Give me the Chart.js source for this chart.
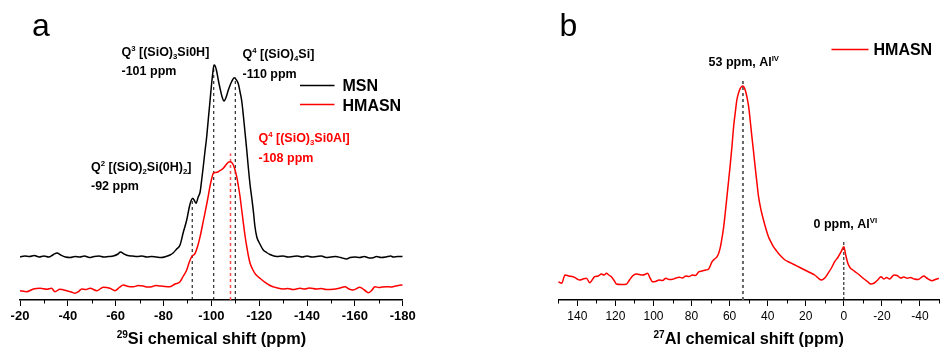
<!DOCTYPE html>
<html><head><meta charset="utf-8">
<script src="https://cdn.jsdelivr.net/npm/chart.js@4/dist/chart.umd.min.js"></script>
<style>
html,body{margin:0;padding:0;background:#fff;}
#wrap{position:relative;width:942px;height:349px;overflow:hidden;background:#fff;}
#c1{position:absolute;left:0;top:0;}
#c2{position:absolute;left:520px;top:0;}
</style></head><body>
<div id="wrap"><canvas id="c1" width="430" height="349"></canvas><canvas id="c2" width="422" height="349"></canvas></div>
<script>
// ---------- DATA (chemical shift ppm, intensity a.u.) ----------
// Panel a: 29Si spectra
const msnSi = [[-20,43],[-22,44],[-24,43.5],[-26,44.5],[-28,43],[-30,44],[-32,43],[-34,45.5],[-35.5,47],[-37,45],[-39,43],[-41,42.5],[-43,43.5],[-45,43],[-47,44],[-49,42.5],[-51,43.5],[-53,44],[-55,43],[-57,43.5],[-59,44],[-61,46],[-62,48],[-63.5,46],[-65,44.5],[-67,44],[-69,43.5],[-71,44],[-73,43],[-75,43.5],[-77,43],[-79,42.5],[-81,43.5],[-82.7,45],[-84,47],[-85.5,51],[-86.9,55],[-88.3,68],[-89.7,80],[-90.7,92],[-91.4,98.5],[-92.2,101.7],[-93,99],[-93.6,96.7],[-94.5,103],[-95.3,108],[-96,121],[-96.6,133],[-97.3,148],[-98,162],[-98.7,180],[-99.4,198],[-100.1,216],[-100.7,229],[-101.1,235],[-101.6,234],[-102.2,229],[-102.9,220],[-103.6,212],[-104.5,203],[-105.3,199],[-106.2,203],[-107.1,210],[-108.5,218.5],[-109.6,222.3],[-110.5,220],[-111.3,216],[-112,208],[-112.7,199],[-113.4,184],[-114.1,167],[-114.8,150],[-115.4,134],[-116.2,115],[-116.9,102],[-117.6,88],[-118.2,74],[-119,63],[-120.3,56],[-121.7,50],[-123.1,47.5],[-124.5,45.5],[-127.3,43.5],[-130,44],[-132,43],[-134,43.5],[-136,44],[-138,43],[-140,44],[-142,43],[-144,43.5],[-146,44],[-148,42.5],[-150,43],[-152,43.5],[-154,42.5],[-156.6,41],[-158,42.5],[-160,43],[-162,42.5],[-164,43.5],[-166,42],[-167.7,42.3],[-169,43.5],[-171,42.5],[-173,43],[-175,44],[-176,43],[-178,43.5],[-180,43.5]];

const hmasnSi = [[-20,9.3],[-22.8,8.3],[-25.6,11],[-28.4,11.7],[-31.2,10.7],[-33.2,11.7],[-34.6,8.3],[-36.7,10.7],[-39.5,9.3],[-41.5,8],[-43,6.7],[-44.5,8.5],[-45.8,11],[-47.5,10.5],[-49.3,11.7],[-52.1,9.3],[-54.8,12.7],[-57.6,11.7],[-59.7,9.3],[-61.5,12.5],[-63.2,15],[-65.3,13.5],[-67.4,13.3],[-69.5,14.5],[-71.5,14],[-73.3,13],[-75.1,13.3],[-76.8,14.5],[-78.5,14],[-80.6,13.5],[-82.7,13.3],[-84.8,16],[-86.9,18.3],[-88.3,24],[-89.7,30],[-90.8,38],[-91.8,43.3],[-93.2,46.7],[-94.3,54],[-95.3,63.3],[-96.3,75],[-97.3,86.7],[-98.4,100],[-99.4,113.3],[-100.2,122],[-100.8,126.7],[-101.8,127.5],[-102.9,128.3],[-104,130],[-105,131.7],[-106.4,136],[-107.2,137.8],[-107.8,138.3],[-108.5,137.5],[-109.2,135],[-109.9,130],[-110.6,123.3],[-111.3,114],[-112,103.3],[-112.7,90],[-113.4,76.7],[-114.1,64],[-114.8,53.3],[-115.5,44],[-116.2,36.7],[-117.2,31],[-118.2,26.7],[-119.2,24],[-120.3,21.7],[-121.7,19],[-123.1,16.7],[-125,14],[-127,12.5],[-130.1,11],[-132,11.5],[-134,10.5],[-137.1,11.7],[-139,11],[-141,12],[-144,11],[-146,11.5],[-148,10.5],[-151,10.7],[-153,11.5],[-155.9,13.3],[-157.5,11],[-159.3,10],[-162.1,12.7],[-164,10],[-165.6,7.3],[-167,9.5],[-168.4,13.3],[-170,12.5],[-171.5,13],[-173.3,13.3],[-175,13],[-177,14],[-179.6,15],[-180,15]];

// Panel b: 27Al spectrum
const hmasnAl = [[150,18.3],[148.2,16.7],[146.5,25],[144.5,24],[142.2,23.3],[140.5,21.5],[138.7,20],[137,21],[135.2,21.7],[133.5,17.3],[131.5,22],[130.9,23.3],[129,24],[127.4,26],[126,25],[124.7,26.7],[123.5,25],[122.1,23.3],[120.5,19],[119.5,16],[117,15.5],[114.3,15.7],[112.6,20],[111,24],[109.1,26],[107.5,25.5],[105.7,25],[104.5,25.5],[103.1,26.7],[101.8,22],[100.5,18.3],[99,18.5],[97,20],[95.2,19.5],[93.5,21.7],[91.8,20.5],[90,20.7],[88.2,22],[86.5,22.7],[84.8,22],[83,24],[81.3,23.5],[79.6,25],[78,24.5],[76.1,28.3],[74.5,29],[72.6,30],[71,31],[69.2,38.3],[67.9,41],[66.6,43.3],[65.7,47],[64.8,53.3],[64,62],[63.1,73.3],[62.3,87],[61.4,103.3],[60.5,120],[59.6,136.7],[58.7,155],[57.9,173.3],[57,188],[56.2,200],[55.3,207],[54.4,211.7],[53.2,214],[52.5,213],[51.8,210],[50.9,203],[50,193.3],[49.1,178],[48.3,163.3],[47.4,148],[46.6,133.3],[45.7,118],[44.8,103.3],[43.5,90],[42.2,80],[40.9,71],[39.6,63.3],[38.3,58],[37,53.3],[35.7,50],[34.4,46.7],[32.6,43],[30.9,40],[28.3,37.5],[25.7,35],[23.1,32.5],[20.5,30],[17.9,27.5],[15.3,25],[13.5,22],[11.8,20],[10,22],[8.3,26.7],[6.5,32],[4.8,38.3],[3,43],[1.4,48.3],[0,53.3],[-1,45],[-2.1,36.7],[-3.4,32],[-4.7,30],[-6.5,27.5],[-8.2,25],[-10.3,21.5],[-12.5,18.3],[-14.2,16],[-16,17],[-17.8,20],[-19.5,23.3],[-21,21],[-22.5,22.5],[-24,21],[-26.4,25],[-28,24.5],[-30,22],[-31.5,23],[-33.4,21.7],[-35,22.5],[-37,21],[-39,20.5],[-42,24],[-43.5,22],[-46.4,19.3],[-48,20.5],[-49.9,21.7]];

// Peak marker lines: [shift, top intensity]
const siMarkersBlack = [[-92,100],[-101,233],[-110,222.5]];
const siMarkersRed = [[-108,146.5]];
const alMarkerIV = [53,220];
const alMarkerVI = [0,60];

const siRange = [-180,-20];
const alRange = [-50,150];
const yRange = [0,280];

// ---------- HELPERS ----------
const FF = "'Liberation Sans', Arial, Helvetica, sans-serif";
const toXY = arr => arr.map(p => ({x:p[0], y:p[1]}));
const vline = m => [{x:m[0], y:0},{x:m[0], y:m[1]}];

function drawRich(ctx, x, y, parts, size, color){
  ctx.save();
  ctx.fillStyle = color; ctx.textBaseline = 'alphabetic'; ctx.textAlign = 'left';
  let cx = x;
  parts.forEach(([t, kind]) => {
    let fs = size, dy = 0;
    if (kind === 'sup'){ fs = size*0.62; dy = -size*0.38; }
    else if (kind === 'sub'){ fs = size*0.62; dy = size*0.25; }
    ctx.font = 'bold ' + fs + 'px ' + FF;
    ctx.fillText(t, cx, y + dy);
    cx += ctx.measureText(t).width;
  });
  ctx.restore();
  return cx - x;
}
function richWidth(ctx, parts, size){
  let w = 0;
  ctx.save();
  parts.forEach(([t, kind]) => {
    const fs = kind === 'n' ? size : size*0.62;
    ctx.font = 'bold ' + fs + 'px ' + FF;
    w += ctx.measureText(t).width;
  });
  ctx.restore();
  return w;
}

const minorTicks = {
  id:'minorTicks',
  afterDraw(chart){
    const xs = chart.scales.x, ctx = chart.ctx, y0 = chart.chartArea.bottom;
    ctx.save(); ctx.strokeStyle = '#000'; ctx.lineWidth = 1;
    xs.ticks.forEach(t => {
      if (Math.abs(Math.round(t.value)) % 20 !== 0){
        const px = Math.round(xs.getPixelForValue(t.value)) + 0.5;
        ctx.beginPath(); ctx.moveTo(px, y0); ctx.lineTo(px, y0 + 3.5); ctx.stroke();
      }
    });
    ctx.restore();
  }
};

function xScale(range, fontSpec){
  return {
    type:'linear', min:range[0], max:range[1], reverse:true,
    afterFit: s => { s.height = 49; },
    border:{display:true, color:'#000', width:1.5},
    grid:{display:true, drawOnChartArea:false, tickLength:6, lineWidth:1,
      color: c => (c.tick && Math.abs(Math.round(c.tick.value)) % 20 === 0) ? '#000' : 'rgba(0,0,0,0)'},
    ticks:{stepSize:10, autoSkip:false, maxRotation:0, padding:3, color:'#000', font:fontSpec,
      callback: v => (Math.abs(Math.round(v)) % 20 === 0) ? String(Math.round(v)) : ''}
  };
}
const yScale = {display:false, min:yRange[0], max:yRange[1]};
const lineDs = (label, data, color, w) => ({label, data:toXY(data), borderColor:color, borderWidth:w, pointRadius:0, fill:false, tension:0.3, cubicInterpolationMode:'monotone'});
const markDs = (data, color, w, dash) => ({label:'m', data, borderColor:color, borderWidth:w, borderDash:dash, pointRadius:0, fill:false, tension:0});

const AF = 12.5; // annotation font size

// ---------- PANEL A ----------
const annA = {
  id:'annA',
  afterDraw(chart){
    const ctx = chart.ctx, ca = chart.chartArea;
    ctx.save();
    ctx.fillStyle = '#000'; ctx.font = '32px ' + FF; ctx.textBaseline = 'alphabetic';
    ctx.fillText('a', 32, 35.5);
    ctx.restore();
    drawRich(ctx, 121.5, 55.5, [['Q','n'],['3','sup'],[' [(SiO)','n'],['3','sub'],['Si0H]','n']], AF, '#000');
    drawRich(ctx, 121.5, 74.5, [['-101 ppm','n']], AF, '#000');
    drawRich(ctx, 242.5, 58, [['Q','n'],['4','sup'],[' [(SiO)','n'],['4','sub'],['Si]','n']], AF, '#000');
    drawRich(ctx, 242.5, 77.5, [['-110 ppm','n']], AF, '#000');
    drawRich(ctx, 258.5, 142, [['Q','n'],['4','sup'],[' [(SiO)','n'],['3','sub'],['Si0Al]','n']], AF, '#ff0000');
    drawRich(ctx, 258.5, 162, [['-108 ppm','n']], AF, '#ff0000');
    drawRich(ctx, 91, 171, [['Q','n'],['2','sup'],[' [(SiO)','n'],['2','sub'],['Si(0H)','n'],['2','sub'],[']','n']], AF, '#000');
    drawRich(ctx, 91, 190, [['-92 ppm','n']], AF, '#000');
    // legend
    ctx.save();
    ctx.lineWidth = 1.5;
    ctx.strokeStyle = '#000'; ctx.beginPath(); ctx.moveTo(300, 85.5); ctx.lineTo(334.5, 85.5); ctx.stroke();
    ctx.strokeStyle = '#ff0000'; ctx.beginPath(); ctx.moveTo(300, 104.5); ctx.lineTo(334.5, 104.5); ctx.stroke();
    ctx.fillStyle = '#000'; ctx.font = 'bold 16px ' + FF; ctx.textBaseline = 'alphabetic';
    ctx.fillText('MSN', 342.5, 91); ctx.fillText('HMASN', 342.5, 110.5);
    ctx.restore();
    // axis title
    const tParts = [['29','sup'],['Si chemical shift (ppm)','n']];
    const w = richWidth(ctx, tParts, 16.3);
    drawRich(ctx, (ca.left + ca.right)/2 - w/2, 344, tParts, 16.3, '#000');
  }
};

new Chart(document.getElementById('c1'), {
  type:'line',
  data:{datasets:[
    lineDs('MSN', msnSi, '#000', 1.5),
    lineDs('HMASN', hmasnSi, '#ff0000', 1.5),
    ...siMarkersBlack.map(m => markDs(vline(m), '#000', 1, [3,3])),
    ...siMarkersRed.map(m => markDs(vline(m), '#ff4a4a', 1.5, [3,3]))
  ]},
  options:{
    responsive:false, animation:false, devicePixelRatio:1,
    layout:{padding:{left:20, right:27.3, top:20, bottom:0}},
    plugins:{legend:{display:false}, tooltip:{enabled:false}},
    scales:{x:xScale(siRange, {family:FF, size:13, weight:'bold'}), y:yScale}
  },
  plugins:[minorTicks, annA]
});

// ---------- PANEL B ----------
const annB = {
  id:'annB',
  afterDraw(chart){
    const ctx = chart.ctx, ca = chart.chartArea;
    ctx.save();
    ctx.fillStyle = '#000'; ctx.font = '32px ' + FF; ctx.textBaseline = 'alphabetic';
    ctx.fillText('b', 39.5, 36);
    ctx.restore();
    drawRich(ctx, 188.5, 65.5, [['53 ppm, Al','n'],['IV','sup']], AF, '#000');
    drawRich(ctx, 293.5, 228, [['0 ppm, Al','n'],['VI','sup']], AF, '#000');
    ctx.save();
    ctx.lineWidth = 1.5; ctx.strokeStyle = '#ff0000';
    ctx.beginPath(); ctx.moveTo(311.5, 49.5); ctx.lineTo(348.5, 49.5); ctx.stroke();
    ctx.fillStyle = '#000'; ctx.font = 'bold 16px ' + FF; ctx.textBaseline = 'alphabetic';
    ctx.fillText('HMASN', 353.5, 55);
    ctx.restore();
    const tParts = [['27','sup'],['Al chemical shift (ppm)','n']];
    const w = richWidth(ctx, tParts, 16.3);
    drawRich(ctx, (ca.left + ca.right)/2 - w/2, 344, tParts, 16.3, '#000');
  }
};

new Chart(document.getElementById('c2'), {
  type:'line',
  data:{datasets:[
    lineDs('HMASN', hmasnAl, '#ff0000', 1.5),
    markDs(vline(alMarkerIV), '#666', 2, [3,3]),
    markDs(vline(alMarkerVI), '#000', 1, [3,2])
  ]},
  options:{
    responsive:false, animation:false, devicePixelRatio:1,
    layout:{padding:{left:38.3, right:0, top:20, bottom:0}},
    plugins:{legend:{display:false}, tooltip:{enabled:false}},
    scales:{x:xScale(alRange, {family:FF, size:12, weight:'normal'}), y:yScale}
  },
  plugins:[minorTicks, annB]
});
</script>
</body></html>
